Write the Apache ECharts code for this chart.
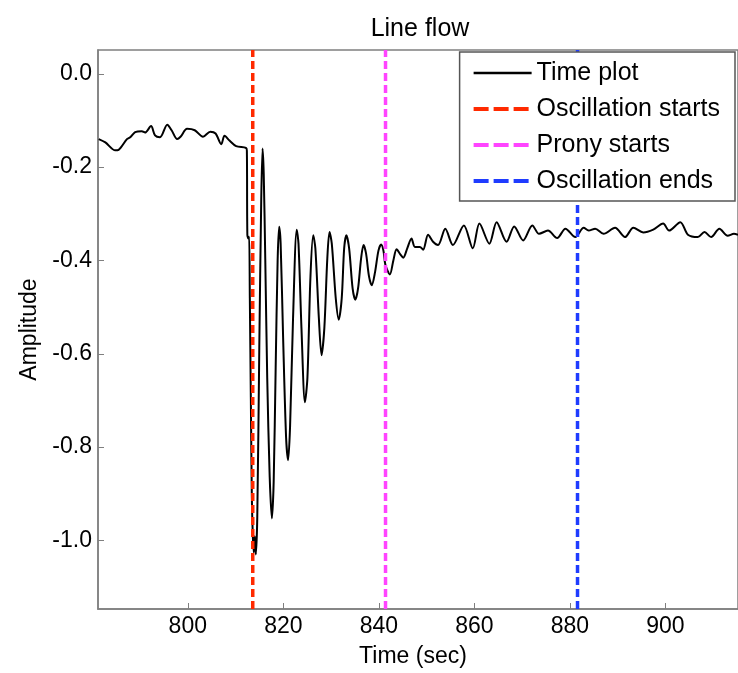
<!DOCTYPE html>
<html>
<head>
<meta charset="utf-8">
<title>Line flow</title>
<script src="https://cdn.jsdelivr.net/npm/echarts@6/dist/echarts.min.js"></script>
<style>
  html, body { margin: 0; padding: 0; background: #fff; }
  #chart { width: 738px; height: 673px; }
</style>
</head>
<body>
<div id="chart"></div>
<script>
const timeSec = [
  781.35, 782.74, 784.82, 785.51, 787.26, 787.94, 788.98, 790.37, 791.06, 792.31,
  793.14, 794.18, 795.70, 796.61, 797.78, 798.48, 799.85, 801.46, 803.18, 804.72,
  805.82, 807.01, 807.69, 808.73, 810.12, 812.20, 812.37,
  812.47, 812.68, 812.85, 812.99, 813.20, 813.41, 813.62, 813.82, 814.03, 814.24,
  814.55, 814.97, 815.38, 815.66, 815.90, 816.22, 816.63, 817.15, 817.61, 817.98,
  818.40, 818.81, 819.13, 819.44, 819.96, 820.58, 821.00, 821.41, 822.04, 822.81,
  823.18, 823.80, 824.53, 825.05, 825.67, 826.26, 826.71, 827.44, 828.00, 828.59,
  829.21, 829.67, 830.15, 830.98, 831.60, 832.23, 832.74, 833.20, 833.78, 834.51,
  835.07, 835.65, 836.28, 836.80, 837.32, 837.94, 838.52, 839.19, 839.92, 840.48,
  840.96, 841.37, 842.31, 843.04, 843.72, 844.49, 845.11, 845.95, 846.84, 847.55,
  848.59, 849.27, 850.31, 851.35, 852.39, 853.91, 855.51, 857.80, 859.67, 861.06,
  863.14, 864.66, 866.74, 868.34, 870.21, 872.14, 873.54, 875.41, 877.34, 879.07,
  881.14, 882.89, 883.93, 885.30, 887.05, 889.46, 891.54, 893.29, 895.37, 897.45,
  899.53, 900.77, 903.12, 904.72, 906.80, 908.18, 909.57, 911.30, 913.04, 914.35,
  915.20
]
const amplitude = [
  -0.140, -0.147, -0.164, -0.163, -0.140, -0.136, -0.125, -0.123, -0.126, -0.112,
  -0.132, -0.136, -0.109, -0.121, -0.140, -0.135, -0.118, -0.121, -0.135, -0.124,
  -0.128, -0.151, -0.133, -0.143, -0.155, -0.159, -0.165,
  -0.345, -0.353, -0.349, -0.481, -0.694, -0.906, -0.991, -1.026, -0.991, -1.030,
  -0.949, -0.587, -0.268, -0.160, -0.215, -0.396, -0.651, -0.864, -0.953, -0.875,
  -0.630, -0.400, -0.328, -0.364, -0.566, -0.779, -0.828, -0.757, -0.523, -0.334,
  -0.364, -0.545, -0.704, -0.651, -0.438, -0.346, -0.374, -0.523, -0.603, -0.545,
  -0.396, -0.339, -0.364, -0.481, -0.527, -0.481, -0.374, -0.346, -0.374, -0.460,
  -0.484, -0.460, -0.396, -0.367, -0.385, -0.434, -0.453, -0.426, -0.379, -0.366,
  -0.379, -0.409, -0.430, -0.400, -0.376, -0.387, -0.394, -0.374, -0.353, -0.371,
  -0.371, -0.377, -0.345, -0.360, -0.367, -0.332, -0.367, -0.325, -0.374, -0.321,
  -0.364, -0.318, -0.360, -0.327, -0.357, -0.325, -0.343, -0.336, -0.352, -0.332,
  -0.350, -0.330, -0.336, -0.332, -0.343, -0.330, -0.350, -0.330, -0.340, -0.334,
  -0.321, -0.336, -0.318, -0.345, -0.350, -0.339, -0.350, -0.332, -0.347, -0.343,
  -0.345
]

// vertical event markers
const markerNames = ['Oscillation starts', 'Prony starts', 'Oscillation ends']
const markerTimes = [813.6, 841.4, 881.6]
const markerColors = ['#ff2a00', '#ff44ff', '#1f3cff']

// axis limits and ticks
const xMin = 781.2
const xMax = 915.2
const yMin = -1.147
const yMax = 0.051
const xTicks = [800, 820, 840, 860, 880, 900]
const yTicks = [-1.0, -0.8, -0.6, -0.4, -0.2, 0.0]

const axisGray = '#7f7f7f'
const fontFamily = 'Liberation Sans, Arial, sans-serif'

const chart = echarts.init(document.getElementById('chart'))

const series = [
  {
    name: 'Time plot',
    type: 'line',
    data: timeSec.map((t, i) => [t, amplitude[i]]),
    symbol: 'none',
    smooth: 0.3,
    lineStyle: { color: '#000', width: 2 },
    itemStyle: { color: '#000' },
    z: 2
  }
]
markerTimes.forEach((t, i) => {
  series.push({
    name: markerNames[i],
    type: 'line',
    data: [[t, yMin], [t, yMax]],
    symbol: 'none',
    lineStyle: { color: markerColors[i], width: 3.5, type: [8, 4] },
    itemStyle: { color: markerColors[i] },
    z: 3
  })
})

const option = {
  animation: false,
  backgroundColor: '#fff',
  title: {
    text: 'Line flow',
    left: 415,
    top: 12,
    textAlign: 'center',
    textStyle: { fontFamily, fontSize: 25, fontWeight: 'normal', color: '#000' }
  },
  legend: {
    orient: 'vertical',
    right: 3,
    top: 52,
    backgroundColor: '#fff',
    borderColor: '#555',
    borderWidth: 1.5,
    borderRadius: 0,
    padding: [7, 15, 6, 12],
    itemWidth: 58,
    itemHeight: 14,
    itemGap: 8,
    itemStyle: { opacity: 0 },
    textStyle: { fontFamily, fontSize: 25, color: '#000', lineHeight: 28 },
    data: [
      { name: 'Time plot', lineStyle: { width: 2.5 } },
      { name: markerNames[0], lineStyle: { type: [15, 5], width: 4 } },
      { name: markerNames[1], lineStyle: { type: [15, 5], width: 4 } },
      { name: markerNames[2], lineStyle: { type: [15, 5], width: 4 } }
    ]
  },
  grid: {
    left: 98,
    right: -4,
    top: 50,
    bottom: 60,
    show: true,
    borderColor: axisGray,
    borderWidth: 1.5,
    backgroundColor: '#fff'
  },
  xAxis: {
    type: 'value',
    min: xMin,
    max: xMax,
    name: 'Time (sec)',
    nameLocation: 'middle',
    nameGap: 36,
    nameTextStyle: { fontFamily, fontSize: 23, color: '#000', padding: [0, 10, 0, 0] },
    axisLine: { show: true, onZero: false, lineStyle: { color: axisGray, width: 1.5 } },
    axisTick: { show: true, inside: true, length: 6, customValues: xTicks, lineStyle: { color: axisGray } },
    axisLabel: {
      customValues: xTicks,
      margin: 6,
      fontFamily,
      fontSize: 23,
      color: '#000'
    },
    splitLine: { show: false }
  },
  yAxis: {
    type: 'value',
    min: yMin,
    max: yMax,
    name: 'Amplitude',
    nameLocation: 'middle',
    nameGap: 57,
    nameTextStyle: { fontFamily, fontSize: 23, color: '#000' },
    axisLine: { show: true, onZero: false, lineStyle: { color: axisGray, width: 1.5 } },
    axisTick: { show: true, inside: true, length: 6, customValues: yTicks, lineStyle: { color: axisGray } },
    axisLabel: {
      customValues: yTicks,
      margin: 6,
      fontFamily,
      fontSize: 23,
      color: '#000',
      formatter: v => v.toFixed(1)
    },
    splitLine: { show: false }
  },
  series
}

chart.setOption(option)
</script>
</body>
</html>
